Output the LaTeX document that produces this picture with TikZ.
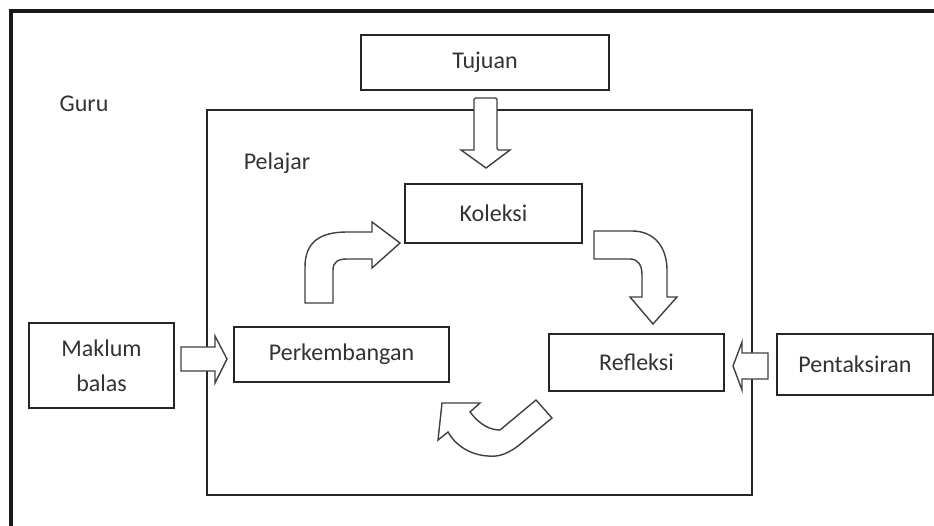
\documentclass[tikz,border=0pt]{standalone}
\usepackage{fontspec}
\setmainfont{Carlito}
\begin{document}
\begin{tikzpicture}[x=1pt,y=-1pt,
  box/.style={draw=black!85, line width=1.5pt, fill=white, inner sep=0pt, align=center,
    text=black!80, font=\fontsize{24}{35}\selectfont},
  lbl/.style={inner sep=0pt, text=black!80, font=\fontsize{24}{35}\selectfont},
  barrow/.style={draw=black!75, line width=1.4pt, fill=white, line join=miter}]
\useasboundingbox (0,0) rectangle (934,526);
\fill[white] (0,0) rectangle (934,526);
% outer frame (Guru)
\draw[line width=3.5pt, black!90] (940,11) -- (11,11) -- (11,530);
\node[lbl] (guru) at (84,104) {Guru};
% inner frame (Pelajar)
\draw[line width=1.5pt, black!85] (207,110) rectangle (752,495);
\node[lbl] (pelajar) at (277,163) {Pelajar};
% boxes
\node[box, minimum width=248pt, minimum height=55pt] (tujuan) at (485,62.5) {Tujuan};
\node[box, minimum width=177pt, minimum height=59pt] (koleksi) at (493.5,213.5) {Koleksi};
\node[box, minimum width=215pt, minimum height=55pt] (perk) at (341.5,354.5) {Perkembangan};
\node[box, minimum width=175pt, minimum height=57pt] (refl) at (636.5,362.5) {Refleksi};
\node[box, minimum width=145pt, minimum height=85pt] (maklum) at (101.5,365.5) {Maklum\\balas};
\node[box, minimum width=156pt, minimum height=61pt] (pent) at (855,364.5) {Pentaksiran};
% Tujuan -> Koleksi block arrow
\draw[barrow, rounded corners=1.5pt] (474,150) -- (474,98) -- (497,98) -- (497,150)
  [sharp corners] -- (510,150) -- (486,168) -- (461,150) -- cycle;
% Maklum balas -> Perkembangan
\draw[barrow] (181,347) -- (215,347) -- (215,336) -- (227,359) -- (215,383) -- (215,371) -- (181,371) -- cycle;
% Pentaksiran -> Refleksi
\draw[barrow] (768,353) -- (742,353) -- (742,342) -- (733,366) -- (742,390) -- (742,379) -- (768,379) -- cycle;
% Perkembangan -> Koleksi curved arrow
\draw[barrow] (305,303) -- (305,267) .. controls (305,242) and (320,232) .. (347,232)
  -- (372,232) -- (372,222) -- (400,243) -- (372,268) -- (372,259) -- (347,259)
  .. controls (338,259) and (333,262) .. (333,270) -- (333,303) -- cycle;
% Koleksi -> Refleksi curved arrow
\draw[barrow] (594,231) -- (632,231) .. controls (655,231) and (667,248) .. (667,270)
  -- (667,297) -- (677,297) -- (653,324) -- (630,297) -- (642,297) -- (642,275)
  .. controls (642,265) and (638,259) .. (630,259) -- (594,259) -- cycle;
% Refleksi -> Perkembangan curved arrow
\draw[barrow] (442,403) -- (480,403) -- (470,412)
  .. controls (480,425) and (490,430) .. (500,430) -- (536,400) -- (552,418) -- (518,446)
  .. controls (506,455) and (497,457) .. (488,456)
  .. controls (470,455) and (455,445) .. (448,432) -- (438,440) -- cycle;
\end{tikzpicture}
\end{document}
